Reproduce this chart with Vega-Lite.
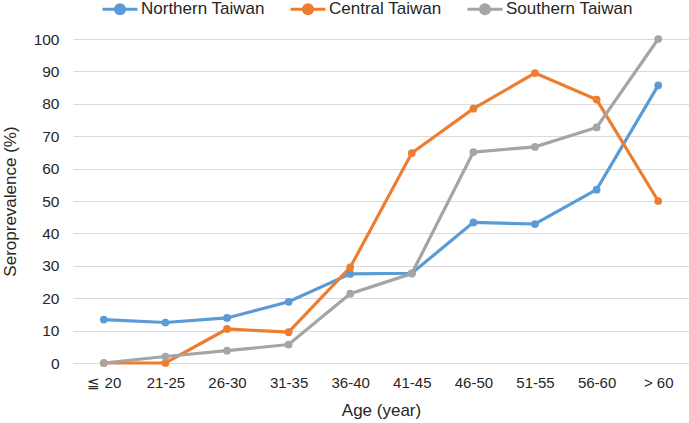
{
  "$schema": "https://vega.github.io/schema/vega-lite/v6.json",
  "autosize": "none",
  "width": 616,
  "height": 324,
  "padding": {"left": 73, "top": 39, "right": 0, "bottom": 60},
  "background": "white",
  "config": {
    "view": {"stroke": null},
    "font": "Liberation Sans"
  },
  "data": {
    "values": [
      {"age": "≦ 20", "region": "Northern Taiwan", "value": 13.4},
      {"age": "21-25", "region": "Northern Taiwan", "value": 12.5},
      {"age": "26-30", "region": "Northern Taiwan", "value": 13.9},
      {"age": "31-35", "region": "Northern Taiwan", "value": 18.9},
      {"age": "36-40", "region": "Northern Taiwan", "value": 27.5},
      {"age": "41-45", "region": "Northern Taiwan", "value": 27.7},
      {"age": "46-50", "region": "Northern Taiwan", "value": 43.4},
      {"age": "51-55", "region": "Northern Taiwan", "value": 42.9},
      {"age": "56-60", "region": "Northern Taiwan", "value": 53.5},
      {"age": "> 60", "region": "Northern Taiwan", "value": 85.7},
      {"age": "≦ 20", "region": "Central Taiwan", "value": 0},
      {"age": "21-25", "region": "Central Taiwan", "value": 0},
      {"age": "26-30", "region": "Central Taiwan", "value": 10.5},
      {"age": "31-35", "region": "Central Taiwan", "value": 9.5},
      {"age": "36-40", "region": "Central Taiwan", "value": 29.5},
      {"age": "41-45", "region": "Central Taiwan", "value": 64.8},
      {"age": "46-50", "region": "Central Taiwan", "value": 78.5},
      {"age": "51-55", "region": "Central Taiwan", "value": 89.5},
      {"age": "56-60", "region": "Central Taiwan", "value": 81.3},
      {"age": "> 60", "region": "Central Taiwan", "value": 50},
      {"age": "≦ 20", "region": "Southern Taiwan", "value": 0},
      {"age": "21-25", "region": "Southern Taiwan", "value": 2.0},
      {"age": "26-30", "region": "Southern Taiwan", "value": 3.8},
      {"age": "31-35", "region": "Southern Taiwan", "value": 5.7},
      {"age": "36-40", "region": "Southern Taiwan", "value": 21.4},
      {"age": "41-45", "region": "Southern Taiwan", "value": 27.6},
      {"age": "46-50", "region": "Southern Taiwan", "value": 65.1},
      {"age": "51-55", "region": "Southern Taiwan", "value": 66.7},
      {"age": "56-60", "region": "Southern Taiwan", "value": 72.7},
      {"age": "> 60", "region": "Southern Taiwan", "value": 100}
    ]
  },
  "encoding": {
    "x": {
      "field": "age",
      "type": "ordinal",
      "sort": null,
      "scale": {"type": "point", "padding": 0.5},
      "axis": {
        "title": "Age (year)",
        "titleFontSize": 17,
        "titleFontWeight": "normal",
        "titleColor": "#262626",
        "titlePadding": 12,
        "labelAngle": 0,
        "labelFontSize": 15,
        "labelColor": "#262626",
        "labelPadding": 12,
        "ticks": false,
        "domain": false,
        "grid": false
      }
    },
    "y": {
      "field": "value",
      "type": "quantitative",
      "scale": {"domain": [0, 100], "nice": false},
      "axis": {
        "title": "Seroprevalence (%)",
        "titleFontSize": 17,
        "titleFontWeight": "normal",
        "titleColor": "#262626",
        "titlePadding": 14,
        "values": [0, 10, 20, 30, 40, 50, 60, 70, 80, 90, 100],
        "labelFontSize": 15.5,
        "labelColor": "#262626",
        "labelPadding": 14,
        "ticks": false,
        "domain": false,
        "grid": true,
        "gridColor": "#D9D9D9",
        "gridWidth": 1.2
      }
    },
    "color": {
      "field": "region",
      "type": "nominal",
      "scale": {
        "domain": ["Northern Taiwan", "Central Taiwan", "Southern Taiwan"],
        "range": ["#5B9BD5", "#ED7D31", "#A5A5A5"]
      },
      "legend": {
        "title": null,
        "orient": "none",
        "direction": "horizontal",
        "legendX": 28,
        "legendY": -49,
        "labelFontSize": 17,
        "labelColor": "#262626",
        "labelOffset": 2,
        "columnPadding": 19,
        "symbolType": "M-1,0L1,0M-0.26,0A0.26,0.26 0 1,1 0.26,0A0.26,0.26 0 1,1 -0.26,0Z",
        "symbolSize": 1225,
        "symbolStrokeWidth": 3,
        "symbolOpacity": 1
      }
    }
  },
  "layer": [
    {
      "mark": {"type": "line", "strokeWidth": 3.2}
    },
    {
      "mark": {"type": "point", "filled": true, "size": 60, "opacity": 1}
    }
  ]
}
